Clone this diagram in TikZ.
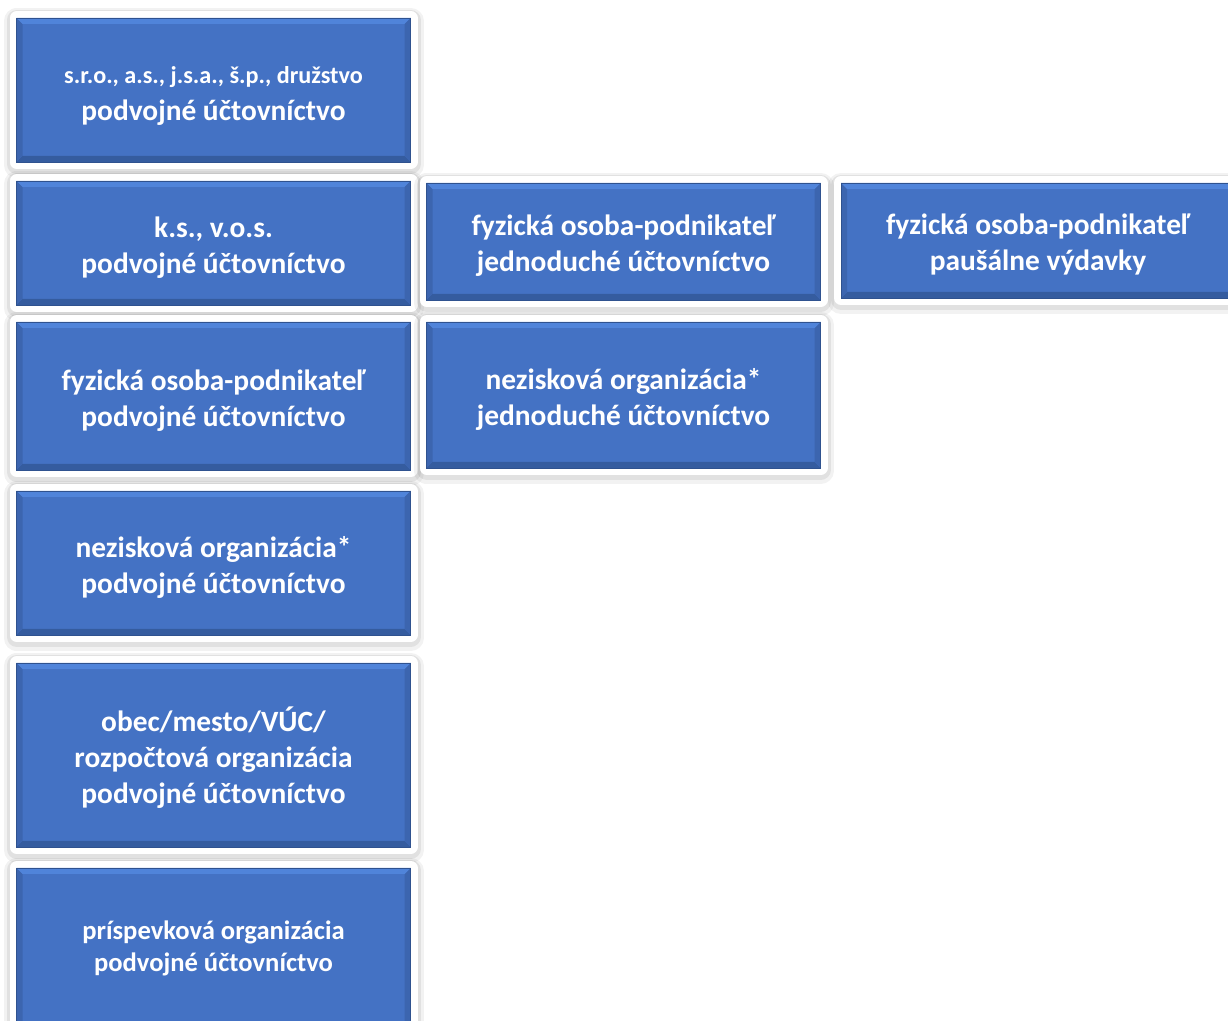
\documentclass[tikz,border=0pt]{standalone}
\usepackage{fontspec}
\setmainfont{Carlito}
\usepackage{xcolor}
\definecolor{boxblue}{RGB}{68, 114, 196}
\definecolor{boxdark}{RGB}{47, 82, 143}
\definecolor{boxlight}{RGB}{80, 132, 218}
\usetikzlibrary{positioning, calc}
\newcommand{\lift}{\rule{0pt}{14.5pt}}

\begin{document}
\begin{tikzpicture}[
    x=0.5pt, y=-0.5pt,
    unit/.style={rectangle, fill=boxblue, draw=boxdark, line width=0.4pt, text=white,
        font=\bfseries\fontsize{14.7}{18}\selectfont, align=center, inner sep=0pt,
        minimum width=197pt,
        preaction={draw=black, draw opacity=0.05, line width=13pt, line join=round, transform canvas={yshift=-1.5pt}},
        preaction={draw=black, draw opacity=0.07, line width=10pt, line join=round, transform canvas={yshift=-1pt}},
        preaction={draw=white, line width=7pt, line join=round},
        path picture={
            \fill[boxdark!70!boxblue] (path picture bounding box.south west) -- (path picture bounding box.south east)
                -- ([shift={(-3pt,3pt)}]path picture bounding box.south east) -- ([shift={(3pt,3pt)}]path picture bounding box.south west) -- cycle;
            \fill[boxdark!40!boxblue] (path picture bounding box.south west) -- ([shift={(3pt,3pt)}]path picture bounding box.south west)
                -- ([shift={(3pt,-3pt)}]path picture bounding box.north west) -- (path picture bounding box.north west) -- cycle;
            \fill[boxdark!40!boxblue] (path picture bounding box.south east) -- ([shift={(-3pt,3pt)}]path picture bounding box.south east)
                -- ([shift={(-3pt,-3pt)}]path picture bounding box.north east) -- (path picture bounding box.north east) -- cycle;
            \fill[boxlight] (path picture bounding box.north west) -- (path picture bounding box.north east)
                -- ([shift={(-3pt,-3pt)}]path picture bounding box.north east) -- ([shift={(3pt,-3pt)}]path picture bounding box.north west) -- cycle;
        }},
    small/.style={font=\bfseries\fontsize{13.3}{16}\selectfont}
]
    \useasboundingbox (0, 0) rectangle (1228, 1021);

    % Double-entry column
    \node[unit, minimum height=72pt] (b1) at (213.5, 90) {\lift{\fontsize{12.1}{15}\selectfont s.r.o., a.s., j.s.a., š.p., družstvo}\\[0.5pt] podvojné účtovníctvo};
    \node[unit, minimum height=62pt] (b2) at (213.5, 243) {\lift k.s., v.o.s.\\podvojné účtovníctvo};
    \node[unit, minimum height=74pt] (b3) at (213.5, 396) {\lift fyzická osoba-podnikateľ\\podvojné účtovníctvo};
    \node[unit, minimum height=72pt] (b4) at (213.5, 563) {\lift nezisková organizácia*\\podvojné účtovníctvo};
    \node[unit, minimum height=92pt] (b5) at (213.5, 755) {\lift obec/mesto/VÚC/\\rozpočtová organizácia\\podvojné účtovníctvo};
    \node[unit, small, minimum height=80pt] (b6) at (213.5, 948) {príspevková organizácia\\podvojné účtovníctvo};

    % Single-entry column
    \node[unit, minimum height=58.5pt] (j1) at (623.5, 241.5) {\lift fyzická osoba-podnikateľ\\jednoduché účtovníctvo};
    \node[unit, minimum height=73pt] (j2) at (623.5, 395) {\lift nezisková organizácia*\\jednoduché účtovníctvo};

    % Flat-rate expenses
    \node[unit, minimum height=57.5pt] (p1) at (1038, 240.5) {\lift fyzická osoba-podnikateľ\\paušálne výdavky};
\end{tikzpicture}
\end{document}
